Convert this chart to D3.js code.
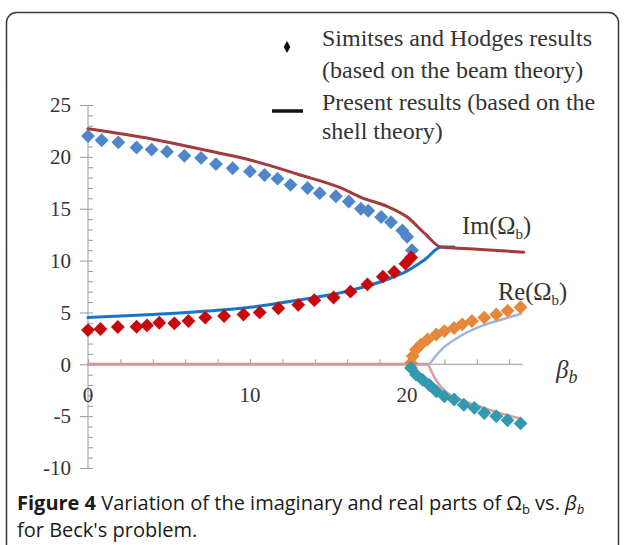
<!DOCTYPE html>
<html>
<head>
<meta charset="utf-8">
<script src="https://cdn.jsdelivr.net/npm/d3@7/dist/d3.min.js"></script>
<style>
  html, body { margin: 0; padding: 0; background: #fff; }
  svg { display: block; }
</style>
</head>
<body>
<script>
// Beck's problem: imaginary and real parts of Omega_b versus beta_b

// Simitses and Hodges (beam theory) – discrete results
const beamImUpper = [
  [0, 22.0], [0.84, 21.6], [1.87, 21.4], [3.0, 20.9], [3.93, 20.7], [4.88, 20.5],
  [5.95, 20.1], [6.98, 19.9], [7.9, 19.3], [8.93, 18.9], [10.0, 18.6], [10.9, 18.25],
  [11.7, 17.9], [12.5, 17.3], [13.55, 17.0], [14.3, 16.5], [15.3, 16.2], [16.1, 15.7],
  [16.85, 15.0], [17.3, 14.8], [18.1, 14.2], [18.7, 13.7], [19.4, 12.9], [19.7, 12.3],
  [20.0, 11.0]
];
const beamImLower = [
  [0, 3.3], [0.77, 3.4], [1.84, 3.6], [3.0, 3.62], [3.64, 3.75], [4.4, 4.0],
  [5.33, 3.95], [6.2, 4.17], [7.24, 4.5], [8.4, 4.66], [9.6, 4.8], [10.6, 5.0],
  [11.75, 5.4], [12.98, 5.73], [13.97, 6.18], [15.16, 6.44], [16.2, 7.0],
  [17.25, 7.7], [18.2, 8.45], [18.9, 8.9], [19.6, 9.7], [19.95, 10.3]
];
const beamReUpper = [
  [19.94, 0.13], [20.04, 0.78], [20.25, 1.42], [20.55, 1.9], [20.96, 2.4], [21.5, 2.87],
  [22.0, 3.2], [22.6, 3.5], [23.1, 3.85], [23.7, 4.17], [24.46, 4.5], [25.2, 4.8],
  [25.9, 5.15], [26.7, 5.5]
];
const beamReLower = [
  [19.94, -0.35], [20.25, -1.0], [20.65, -1.5], [21.07, -2.0], [21.5, -2.6], [22.0, -3.1],
  [22.6, -3.4], [23.2, -3.9], [23.85, -4.2], [24.46, -4.7], [25.2, -5.0], [25.9, -5.4],
  [26.7, -5.7]
];

// Present results (shell theory) – continuous curves
const shellImUpper = [
  [0, 22.7], [4, 21.7], [8, 20.4], [10, 19.7], [13, 18.3], [15.6, 17.0], [16.85, 16.1],
  [18.5, 15.2], [19.7, 14.2], [20.8, 12.6], [21.8, 11.3], [24, 11.1], [26.9, 10.8]
];
const shellImLower = [
  [0, 4.5], [4, 4.8], [8, 5.2], [10, 5.5], [13, 6.2], [15.6, 6.9], [16.9, 7.4],
  [18.5, 8.2], [19.7, 9.0], [20.8, 10.1], [21.8, 11.3], [22.6, 11.3]
];
const shellReZero = [[0, 0], [21.0, 0]];
const shellReLower = [
  [21.0, 0], [21.4, -1.3], [22.2, -2.8], [23.0, -3.4], [23.85, -3.9], [25.2, -4.6], [26.6, -5.2]
];
const shellReUpper = [
  [21.07, 0], [21.8, 1.4], [22.8, 2.55], [24.3, 3.7], [25.5, 4.3], [26.7, 4.85]
];

const yMajorTicks = [-10, -5, 0, 5, 10, 15, 20, 25];
const xLabelTicks = [0, 10, 20];

const W = 624, H = 545;
const svg = d3.select("body").append("svg").attr("width", W).attr("height", H);

// outer frame
svg.append("rect")
  .attr("x", 6.5).attr("y", 12.5).attr("width", 612).attr("height", 560)
  .attr("rx", 10).attr("ry", 10)
  .attr("fill", "#fff").attr("stroke", "#3a3a3a").attr("stroke-width", 1.5);

const x = d3.scaleLinear().domain([0, 27]).range([88, 525.4]);
const y = d3.scaleLinear().domain([-10, 25]).range([468, 105]);

const axisColor = "#9a9a9a";
const serif = "'Liberation Serif', 'Times New Roman', serif";

// y axis
const yAxisMinor = d3.axisRight(y).tickValues(d3.range(-10, 26, 1)).tickSize(5).tickFormat("");
const gYm = svg.append("g").attr("transform", `translate(${x(0)},0)`).call(yAxisMinor);
gYm.select(".domain").remove();
gYm.selectAll("line").attr("stroke", axisColor);

const yAxis = d3.axisLeft(y).tickValues(yMajorTicks).tickSize(8).tickPadding(9)
  .tickFormat(d => String(d));
const gY = svg.append("g").attr("transform", `translate(${x(0)},0)`).call(yAxis);
gY.select(".domain").attr("stroke", axisColor).attr("d", `M0,${y(25)}V${y(-10)}`);
gY.selectAll("line").attr("stroke", axisColor);
gY.selectAll("text").attr("font-family", serif).attr("font-size", 21).attr("fill", "#333");

// x axis along zero
const xAxis = d3.axisTop(x).tickValues(d3.range(0, 27, 2)).tickSize(5).tickFormat("");
const gX = svg.append("g").attr("transform", `translate(0,${y(0)})`).call(xAxis);
gX.select(".domain").attr("stroke", axisColor).attr("d", `M${x(0)},0H${x(26.85)}`);
gX.selectAll("line").attr("stroke", axisColor);

svg.append("g").selectAll("text").data(xLabelTicks).join("text")
  .attr("x", d => x(d) - (d === 20 ? 5 : 0)).attr("y", y(0) + 38)
  .attr("text-anchor", "middle")
  .attr("font-family", serif).attr("font-size", 21).attr("fill", "#333")
  .text(d => d);

const line = d3.line().x(d => x(d[0])).y(d => y(d[1])).curve(d3.curveMonotoneX);

function drawLine(data, color, width) {
  svg.append("path").datum(data).attr("d", line)
    .attr("fill", "none").attr("stroke", color).attr("stroke-width", width)
    .attr("stroke-linejoin", "round").attr("stroke-linecap", "round");
}

// shell curves
drawLine(shellReZero, "#d99497", 3);
drawLine(shellReLower, "#df9a9e", 2.5);
drawLine(shellReUpper, "#9fb4e2", 2.5);
drawLine(shellImLower, "#1a74c6", 3);
drawLine(shellImUpper, "#a33a3c", 3);

// beam points
const diamond = d3.symbol().type(d3.symbolSquare).size(96)();
function drawDiamonds(data, color) {
  svg.append("g").selectAll("path").data(data).join("path")
    .attr("d", diamond)
    .attr("transform", d => `translate(${x(d[0])},${y(d[1])}) rotate(45)`)
    .attr("fill", color);
}
drawDiamonds(beamImUpper, "#4f86c9");
drawDiamonds(beamImLower, "#c8090c");
drawDiamonds(beamReUpper, "#e8873a");
drawDiamonds(beamReLower, "#3399b0");

// curve labels
function omegaLabel(xp, yp, prefix) {
  const t = svg.append("text").attr("x", xp).attr("y", yp)
    .attr("font-family", serif).attr("font-size", 24.5).attr("fill", "#333");
  t.append("tspan").text(prefix + "(Ω");
  t.append("tspan").attr("font-size", 15).attr("dy", 5).text("b");
  t.append("tspan").attr("dy", -5).text(")");
}
omegaLabel(462, 234, "Im");
omegaLabel(498, 300, "Re");

const bl = svg.append("text").attr("x", 556).attr("y", 378)
  .attr("font-family", serif).attr("font-size", 25).attr("font-style", "italic").attr("fill", "#333");
bl.append("tspan").text("β");
bl.append("tspan").attr("font-size", 18).attr("dy", 5).text("b");

// legend
svg.append("path")
  .attr("d", d3.symbol().type(d3.symbolDiamond).size(40)())
  .attr("transform", "translate(287,47)").attr("fill", "#111");
svg.append("line").attr("x1", 272).attr("x2", 303).attr("y1", 111).attr("y2", 111)
  .attr("stroke", "#111").attr("stroke-width", 3.5);

const legendLines = [
  ["Simitses and Hodges results", 322, 46],
  ["(based on the beam theory)", 322, 78],
  ["Present results (based on the", 322, 110],
  ["shell theory)", 322, 139]
];
svg.append("g").selectAll("text").data(legendLines).join("text")
  .attr("x", d => d[1]).attr("y", d => d[2])
  .attr("font-family", serif).attr("font-size", 24).attr("fill", "#333")
  .text(d => d[0]);

// caption
const sans = "'Open Sans', 'Noto Sans', sans-serif";
const cap1 = svg.append("text").attr("x", 17).attr("y", 510)
  .attr("font-family", sans).attr("font-size", 20).attr("fill", "#1a1a1a");
cap1.append("tspan").attr("font-weight", "bold").text("Figure 4");
cap1.append("tspan").text(" Variation of the imaginary and real parts of Ω");
cap1.append("tspan").attr("font-size", 13).attr("dy", 4).text("b");
cap1.append("tspan").attr("dy", -4).text(" vs. ");
cap1.append("tspan").attr("font-style", "italic").text("β");
cap1.append("tspan").attr("font-size", 13).attr("dy", 4).attr("font-style", "italic").text("b");

svg.append("text").attr("x", 17).attr("y", 537)
  .attr("font-family", sans).attr("font-size", 20).attr("fill", "#1a1a1a")
  .text("for Beck's problem.");
</script>
</body>
</html>
